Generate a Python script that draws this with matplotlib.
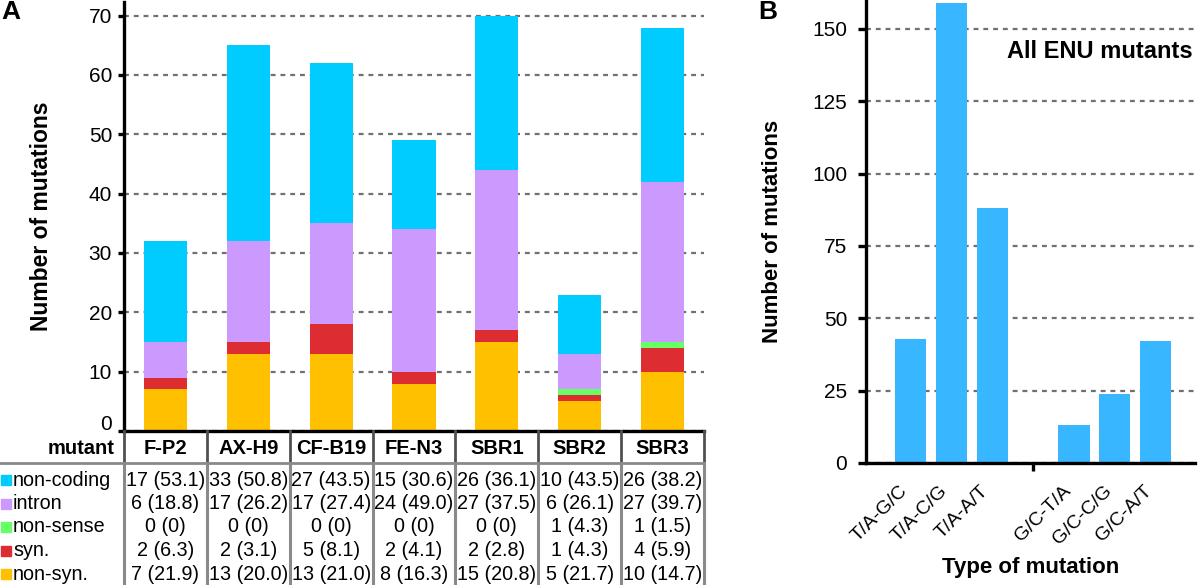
import matplotlib
matplotlib.use("Agg")
import matplotlib.pyplot as plt
from matplotlib.transforms import ScaledTranslation

plt.rcParams['font.family'] = ['Liberation Sans', 'DejaVu Sans']

# --- painel A: mutações por mutante ---
mutantes = ["F-P2", "AX-H9", "CF-B19", "FE-N3", "SBR1", "SBR2", "SBR3"]
non_coding = [17, 33, 27, 15, 26, 10, 26]
intron = [6, 17, 17, 24, 27, 6, 27]
non_sense = [0, 0, 0, 0, 0, 1, 1]
syn = [2, 2, 5, 2, 2, 1, 4]
non_syn = [7, 13, 13, 8, 15, 5, 10]
pct_non_coding = ["53.1", "50.8", "43.5", "30.6", "36.1", "43.5", "38.2"]
pct_intron = ["18.8", "26.2", "27.4", "49.0", "37.5", "26.1", "39.7"]
pct_non_sense = ["0", "0", "0", "0", "0", "4.3", "1.5"]
pct_syn = ["6.3", "3.1", "8.1", "4.1", "2.8", "4.3", "5.9"]
pct_non_syn = ["21.9", "20.0", "21.0", "16.3", "20.8", "21.7", "14.7"]
categorias = ["non-coding", "intron", "non-sense", "syn.", "non-syn."]
cores = ["#00CCFF", "#CC99FF", "#66FF66", "#DD2D32", "#FFC000"]

# --- painel B: tipo de mutação ---
tipos = ["T/A-G/C", "T/A-C/G", "T/A-A/T", "G/C-T/A", "G/C-C/G", "G/C-A/T"]
n_tipos = [43, 159, 88, 13, 24, 42]

W, H = 1200, 585
fig = plt.figure(figsize=(W / 100, H / 100), dpi=100)


def eixo(x0, y0, x1, y1):
    # caixa em pixels, origem no canto superior esquerdo
    return fig.add_axes([x0 / W, 1 - y1 / H, (x1 - x0) / W, (y1 - y0) / H])


def desloca(texto, dx, dy):
    # empurra um texto alguns pixels
    t = ScaledTranslation(dx / 100, dy / 100, fig.dpi_scale_trans)
    texto.set_transform(texto.get_transform() + t)


grade = dict(ls=(0, (2.2, 2.2)), color="#707070", lw=1.6)

# ---------------- A ----------------
ax = eixo(124, 2, 704, 431)
x = list(range(len(mutantes)))
series = [non_syn, syn, non_sense, intron, non_coding]
base = [0] * len(mutantes)
for vals, cor in zip(series, cores[::-1]):
    ax.bar(x, vals, 0.52, bottom=base, color=cor, zorder=2)
    base = [b + v for b, v in zip(base, vals)]
ax.set_xlim(-0.5, len(mutantes) - 0.5)
ax.set_ylim(0, 72.3)
ax.set_yticks(range(0, 71, 10))
ax.set_xticks([])
for s in ["top", "right"]:
    ax.spines[s].set_visible(False)
for s in ["left", "bottom"]:
    ax.spines[s].set_linewidth(2.4)
ax.tick_params(axis="y", length=4.3, width=2.4, pad=4.3, labelsize=15)
ax.yaxis.grid(True, **grade)
ax.set_axisbelow(True)
ax.set_ylabel("Number of mutations", fontsize=16.5, fontweight="bold")
ax.yaxis.set_label_coords(-0.122, 0.5)
fig.canvas.draw()
desloca(ax.get_yticklabels()[0], 0, 9)

# tabela por baixo do painel A
tb = eixo(0, 431, 704, H)
px = 580 / len(mutantes)
esq = -0.5 - 124 / px
dir_ = len(mutantes) - 0.5
tb.set_xlim(esq, dir_)
tb.set_ylim(154, 0)
tb.axis("off")

tb.text(-0.5 - 10 / px, 18, "mutant", ha="right", va="center",
        fontsize=14.5, fontweight="bold")
for i, m in enumerate(mutantes):
    tb.text(i, 18, m, ha="center", va="center", fontsize=14.5, fontweight="bold")

tb.plot([esq, dir_], [32, 32], color="#8a8a8a", lw=2, clip_on=False)
for k in range(len(mutantes) + 1):
    xk = -0.5 + k
    tb.plot([xk, xk], [0, 32], color="#505050", lw=2, clip_on=False)
    tb.plot([xk, xk], [32, 154], color="#8a8a8a", lw=2.2, clip_on=False)

contagens = [non_coding, intron, non_sense, syn, non_syn]
pcts = [pct_non_coding, pct_intron, pct_non_sense, pct_syn, pct_non_syn]
for r, (cat, cor, ns, ps) in enumerate(zip(categorias, cores, contagens, pcts)):
    y = 49 + 23.5 * r
    tb.plot([esq + 6 / px], [y], marker="s", ms=7.5, color=cor, clip_on=False)
    tb.text(esq + 13 / px, y, cat, ha="left", va="center", fontsize=14.2)
    for i, (n, p) in enumerate(zip(ns, ps)):
        tb.text(i, y, f"{n} ({p})", ha="center", va="center", fontsize=14.2)

fig.text(1 / W, 1 - 12 / H, "A", fontsize=19, fontweight="bold", va="center")

# ---------------- B ----------------
bx = eixo(866, 0, 1195, 463)
pos = [i + 1 + int(t.startswith("G/C")) for i, t in enumerate(tipos)]
bx.bar(pos, n_tipos, 0.76, color="#38B6FF", zorder=2)
bx.set_xlim(-0.09, 7.96)
bx.set_ylim(0, 160)
bx.set_yticks(range(0, 151, 25))
bx.set_xticks(pos)
bx.set_xticklabels(tipos, rotation=45, ha="right", fontsize=14)
for lab in bx.get_xticklabels():
    desloca(lab, 6, 0)
bx.tick_params(axis="x", which="major", length=0, pad=14)
meio = (pos[2] + pos[3]) / 2
bx.set_xticks([meio], minor=True)
bx.tick_params(axis="x", which="minor", length=6, width=2.4)
bx.tick_params(axis="y", length=5.8, width=2.4, pad=7.7, labelsize=15)
for s in ["top", "right"]:
    bx.spines[s].set_visible(False)
for s in ["left", "bottom"]:
    bx.spines[s].set_linewidth(2.4)
bx.yaxis.grid(True, **grade)
bx.set_axisbelow(True)
bx.set_ylabel("Number of mutations", fontsize=16, fontweight="bold")
bx.yaxis.set_label_coords(-0.252, 0.5)
bx.set_xlabel("Type of mutation", fontsize=16, fontweight="bold", va="center")
bx.xaxis.set_label_coords(0.5, -0.225)
bx.text(0.994, 0.888, "All ENU mutants", transform=bx.transAxes,
        ha="right", va="center", fontsize=17, fontweight="bold")

fig.text(758 / W, 1 - 12 / H, "B", fontsize=19, fontweight="bold", va="center")

fig.savefig("out.png", dpi=100)
